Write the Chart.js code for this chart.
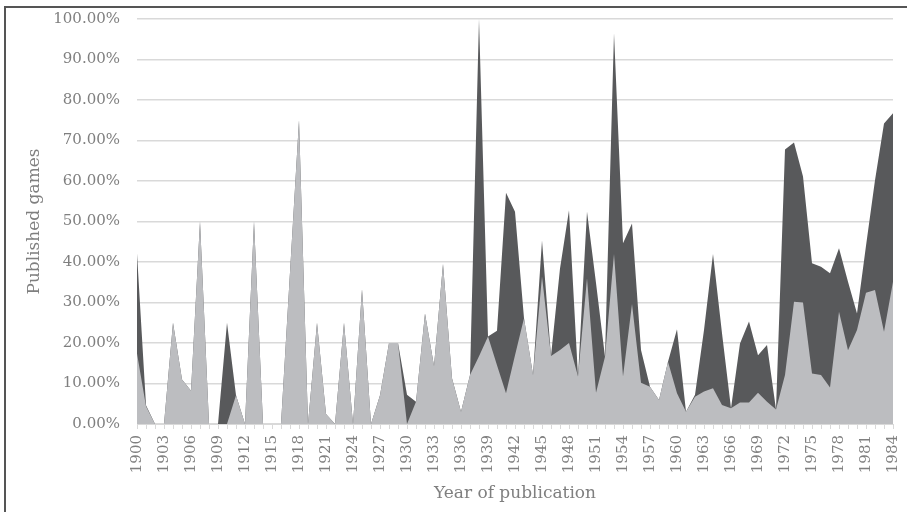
<!DOCTYPE html>
<html>
<head>
<meta charset="utf-8">
<script src="https://cdn.jsdelivr.net/npm/chart.js@4.4.1/dist/chart.umd.min.js"></script>
<style>
  html, body { margin: 0; padding: 0; overflow: hidden; background: #fff; }
  #wrap { position: relative; width: 907px; height: 512px; }
  #frame { position: absolute; left: 4px; top: 6px; width: 1000px; height: 1000px;
           border: 2px solid #555; pointer-events: none; }
  canvas { position: absolute; left: 0; top: 0; }
</style>
</head>
<body>
<div id="wrap">
  <div id="frame"></div>
  <canvas id="drawChart" width="907" height="512"></canvas>
</div>
<script>
// years on the x axis
const years = [];
for (let y = 1900; y <= 1984; y++) years.push(String(y));

// light grey series (front), percent
const lightVals = [
  17.4, 4.4, 0, 0, 25, 11, 8.2, 50, 0, 0,          // 1900-1909
  0, 7.1, 0, 50, 0, 0, 0, 37.5, 75, 0,              // 1910-1919
  25, 2.5, 0, 25, 0, 33.3, 0, 7.1, 20, 20,          // 1920-1929
  0, 5.5, 27.3, 14.3, 39.5, 11.3, 3, 12.1, 16.7, 21.6, // 1930-1939
  14.5, 7.6, 17, 26.1, 12.1, 36.4, 16.8, 18.3, 20, 11.7, // 1940-1949
  36, 7.7, 16.6, 42, 11.7, 29.6, 10.2, 9.2, 5.9, 15.4,  // 1950-1959
  7.6, 3, 6.7, 8, 8.8, 4.7, 3.9, 5.3, 5.3, 7.7,      // 1960-1969
  5.5, 3.6, 12.1, 30.2, 30, 12.5, 12.1, 9, 27.7, 18.2, // 1970-1979
  23.2, 32.4, 33.1, 22.8, 35.1                       // 1980-1984
];

// dark grey series (behind), percent
const darkVals = [
  42.1, 4.6, 0, 0, 25, 11, 8.2, 50, 0, 0,
  25, 7.1, 0, 50, 0, 0, 0, 37.5, 75, 0,
  25, 2.5, 0, 25, 0, 33.3, 0, 7.1, 20, 20,
  7.2, 5.5, 27.3, 14.3, 39.5, 11.3, 3, 12.1, 100, 21.6,
  23, 57.1, 52.4, 26.1, 12.1, 45.3, 16.8, 38.4, 52.8, 11.7,
  52.4, 34.8, 16.6, 96.5, 44.6, 49.5, 18.3, 9.2, 5.9, 15.4,
  23.4, 3, 7.2, 23.2, 42, 22.4, 3.9, 19.9, 25.3, 17,
  19.5, 3.6, 67.8, 69.5, 61.1, 39.7, 38.8, 37.2, 43.4, 35.1,
  27.3, 44, 60.2, 74.2, 76.7
];

const textColor = '#7f7f7f';
const gridColor = '#d9d9d9';
const fontFamily = '"DejaVu Serif", serif';

const ctx = document.getElementById('drawChart').getContext('2d');
const myChart = new Chart(ctx, {
    type: 'line',
    data: {
        labels: years,
        datasets: [{
            data: lightVals,
            backgroundColor: '#bcbdc0',
            borderWidth: 0,
            pointRadius: 0,
            fill: 'origin',
            tension: 0
        }, {
            data: darkVals,
            backgroundColor: '#58595b',
            borderWidth: 0,
            pointRadius: 0,
            fill: 'origin',
            tension: 0
        }]
    },
    options: {
        responsive: false,
        animation: false,
        devicePixelRatio: 1,
        layout: {padding: {left: 0, top: 19, right: 14, bottom: 0}},
        plugins: {
            legend: {display: false},
            tooltip: {enabled: false}
        },
        scales: {
            x: {
                grid: {display: true, drawOnChartArea: false, drawTicks: true, tickLength: 5, color: gridColor},
                border: {display: true, color: gridColor},
                ticks: {
                    autoSkip: false,
                    minRotation: 90,
                    maxRotation: 90,
                    padding: 6,
                    color: textColor,
                    font: {family: fontFamily, size: 15},
                    callback: function (val, idx) {
                        return idx % 3 === 0 ? this.getLabelForValue(val) : '';
                    }
                },
                title: {
                    display: true,
                    text: 'Year of publication',
                    color: textColor,
                    font: {family: fontFamily, size: 17},
                    padding: {top: 0, bottom: 8}
                },
                afterFit: function (scale) {
                    scale.height = 88;
                    scale.paddingLeft = 0;
                    scale.paddingRight = 0;
                }
            },
            y: {
                min: 0,
                max: 100,
                grid: {color: gridColor, drawTicks: false, lineWidth: 1.5},
                border: {display: false},
                ticks: {
                    stepSize: 10,
                    padding: 17,
                    color: textColor,
                    font: {family: fontFamily, size: 15},
                    callback: function (v) { return v.toFixed(2) + '%'; }
                },
                title: {
                    display: true,
                    text: 'Published games',
                    color: textColor,
                    font: {family: fontFamily, size: 17},
                    padding: {top: 24, bottom: 0}
                },
                afterFit: function (scale) {
                    scale.width = 137;
                    scale.paddingTop = 0;
                    scale.paddingBottom = 0;
                }
            }
        }
    }
});
</script>
</body>
</html>
